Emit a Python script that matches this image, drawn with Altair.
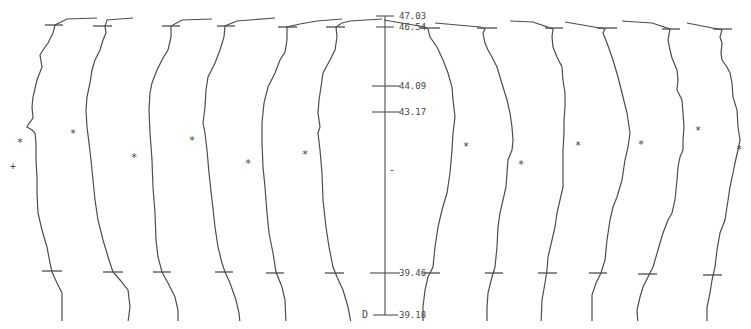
import altair as alt
import pandas as pd

# ---- profile curves (image-like coordinates: x to the right, y downward) ----
curve_x = {
    1: [97, 67, 55, 53, 48, 43, 40, 42, 37, 33, 32, 33, 28, 27, 32, 35, 36, 36, 37, 37, 38, 42, 47, 50, 52, 57, 62, 62, 62],
    2: [133, 107, 105, 106, 103, 100, 95, 92, 90, 87, 86, 87, 89, 91, 93, 95, 98, 103, 109, 113, 120, 128, 130, 128],
    3: [212, 182, 171, 171, 168, 163, 157, 152, 150, 149, 150, 152, 153, 155, 156, 158, 162, 168, 175, 178, 178],
    4: [275, 237, 225, 224, 220, 215, 208, 206, 205, 203, 205, 207, 209, 212, 215, 218, 222, 225, 230, 236, 239, 240],
    5: [342, 317, 300, 287, 287, 285, 280, 275, 268, 264, 262, 262, 263, 265, 267, 269, 273, 276, 282, 285, 286],
    6: [382, 350, 342, 336, 337, 335, 330, 323, 321, 319, 318, 320, 318, 320, 322, 323, 326, 329, 333, 337, 343, 348, 351],
    7: [384, 425, 428, 430, 437, 443, 448, 452, 453, 455, 453, 452, 450, 447, 442, 438, 435, 433, 428, 425, 423, 423],
    8: [435, 480, 485, 483, 485, 488, 492, 497, 500, 503, 507, 510, 512, 513, 512, 508, 507, 506, 503, 500, 498, 497, 495, 492, 488, 487, 487],
    9: [510, 533, 553, 552, 553, 557, 562, 563, 565, 565, 564, 564, 563, 563, 563, 563, 560, 557, 555, 552, 548, 547, 545, 542, 541],
    10: [565, 600, 605, 603, 607, 613, 618, 623, 627, 630, 628, 625, 622, 617, 613, 610, 607, 605, 601, 596, 592, 592],
    11: [622, 652, 670, 668, 670, 672, 677, 678, 677, 682, 683, 684, 683, 683, 680, 678, 677, 675, 672, 668, 663, 658, 653, 648, 643, 640, 637, 638],
    12: [687, 722, 720, 722, 721, 722, 727, 730, 732, 733, 737, 738, 740, 738, 735, 733, 730, 727, 725, 720, 717, 715, 712, 710, 707, 707],
}
curve_y = {
    1: [18, 19, 25, 33, 43, 50, 55, 67, 80, 97, 107, 118, 125, 127, 130, 133, 143, 160, 177, 193, 213, 230, 247, 263, 272, 283, 293, 307, 322],
    2: [18, 20, 26, 33, 40, 50, 60, 70, 83, 97, 110, 127, 143, 160, 180, 200, 220, 240, 260, 272, 280, 290, 307, 322],
    3: [19, 20, 26, 37, 50, 58, 70, 83, 93, 110, 133, 160, 187, 213, 240, 257, 272, 283, 297, 310, 323],
    4: [18, 21, 26, 37, 50, 63, 77, 90, 107, 123, 133, 150, 173, 200, 227, 247, 263, 272, 283, 300, 313, 323],
    5: [19, 21, 24, 27, 40, 52, 60, 73, 87, 103, 123, 143, 167, 187, 213, 233, 253, 272, 287, 300, 323],
    6: [19, 21, 23, 27, 37, 50, 60, 73, 87, 100, 113, 127, 133, 150, 173, 200, 227, 247, 267, 277, 290, 307, 323],
    7: [20, 27, 29, 37, 47, 60, 73, 87, 100, 117, 133, 150, 173, 193, 210, 227, 247, 267, 277, 290, 307, 325],
    8: [23, 27, 29, 33, 43, 50, 57, 67, 77, 87, 100, 113, 127, 140, 150, 160, 173, 187, 200, 213, 227, 247, 267, 277, 293, 307, 325],
    9: [21, 22, 29, 37, 47, 57, 67, 80, 93, 107, 120, 133, 150, 160, 173, 187, 200, 213, 227, 240, 257, 270, 283, 300, 325],
    10: [22, 28, 29, 33, 43, 60, 77, 97, 113, 133, 147, 160, 180, 197, 207, 220, 240, 260, 273, 283, 295, 325],
    11: [21, 23, 29, 40, 50, 58, 70, 80, 90, 100, 113, 127, 140, 150, 157, 167, 180, 200, 213, 220, 233, 250, 267, 277, 287, 297, 310, 325],
    12: [23, 30, 37, 43, 53, 60, 67, 73, 83, 97, 110, 127, 140, 150, 163, 173, 187, 207, 220, 233, 250, 267, 280, 293, 307, 325],
}

# short horizontal marks on each curve (top and bottom)
tick_x1 = [45, 93, 162, 217, 278, 326, 420, 477, 545, 597, 662, 713,
           42, 103, 153, 215, 266, 325, 423, 485, 538, 589, 638, 703]
tick_x2 = [63, 112, 180, 235, 297, 345, 440, 497, 563, 617, 680, 732,
           62, 123, 171, 233, 284, 344, 440, 503, 557, 607, 657, 722]
tick_y = [25, 26, 26, 26, 27, 27, 28, 28, 28, 28, 29, 29,
          271, 272, 272, 272, 273, 273, 273, 273, 273, 273, 274, 275]

# central scale
scale_labels = ["47.03", "46.54", "44.09", "43.17", "39.46", "39.18"]
scale_y = [16, 27, 86, 112, 273, 315]
scale_x1 = [376, 376, 372, 372, 370, 373]
scale_x2 = [394, 394, 400, 400, 400, 398]
label_x = [399, 399, 399, 399, 399, 399]
axis_x = [385]
axis_top = [16]
axis_bottom = [315]

# asterisks
star_x = [20, 73, 134, 192, 248, 305, 466, 521, 578, 641, 698, 739]
star_y = [140, 131, 155, 138, 161, 152, 144, 162, 143, 142, 128, 147]

# other symbols
sym_text = ["+", "-", "D"]
sym_x = [13, 392, 365]
sym_y = [167, 170, 315]

rows = []
for c in curve_x:
    for i, (xv, yv) in enumerate(zip(curve_x[c], curve_y[c])):
        rows.append({"curve": c, "i": i, "x": xv, "y": yv})
curves = pd.DataFrame(rows)
ticks = pd.DataFrame({"x": tick_x1, "x2": tick_x2, "y": tick_y})
scale_df = pd.DataFrame({"x": scale_x1, "x2": scale_x2, "lx": label_x, "y": scale_y, "label": scale_labels})
axis_df = pd.DataFrame({"x": axis_x, "y": axis_top, "y2": axis_bottom})
stars = pd.DataFrame({"x": star_x, "y": star_y, "t": ["*"] * len(star_x)})
syms = pd.DataFrame({"x": sym_x, "y": sym_y, "t": sym_text})

W, H = 735, 313
xs = alt.Scale(domain=[8, 8 + W], nice=False, zero=False)
ys = alt.Scale(domain=[8, 8 + H], nice=False, zero=False, reverse=True)
INK = "#4d4d4d"
TXT = "#484848"
FONT = "DejaVu Sans Mono"

lines = alt.Chart(curves).mark_line(color=INK, strokeWidth=1.2, clip=True).encode(
    x=alt.X("x:Q", scale=xs, axis=None),
    y=alt.Y("y:Q", scale=ys, axis=None),
    detail="curve:N",
    order="i:Q",
)
tick_rules = alt.Chart(ticks).mark_rule(color=INK, strokeWidth=1.3, clip=True).encode(
    x=alt.X("x:Q", scale=xs, axis=None), x2="x2:Q",
    y=alt.Y("y:Q", scale=ys, axis=None),
)
scale_rules = alt.Chart(scale_df).mark_rule(color=INK, strokeWidth=1.1, clip=True).encode(
    x=alt.X("x:Q", scale=xs, axis=None), x2="x2:Q",
    y=alt.Y("y:Q", scale=ys, axis=None),
)
axis_rule = alt.Chart(axis_df).mark_rule(color=INK, strokeWidth=1.1, clip=True).encode(
    x=alt.X("x:Q", scale=xs, axis=None),
    y=alt.Y("y:Q", scale=ys, axis=None), y2="y2:Q",
)
scale_text = alt.Chart(scale_df).mark_text(
    align="left", baseline="middle", font=FONT, fontSize=9, color=TXT
).encode(
    x=alt.X("lx:Q", scale=xs, axis=None),
    y=alt.Y("y:Q", scale=ys, axis=None),
    text="label:N",
)
star_text = alt.Chart(stars).mark_text(
    align="center", baseline="middle", dy=3, font=FONT, fontSize=11, color=TXT
).encode(
    x=alt.X("x:Q", scale=xs, axis=None),
    y=alt.Y("y:Q", scale=ys, axis=None),
    text="t:N",
)
sym_chart = alt.Chart(syms).mark_text(
    align="center", baseline="middle", font=FONT, fontSize=10, color=TXT
).encode(
    x=alt.X("x:Q", scale=xs, axis=None),
    y=alt.Y("y:Q", scale=ys, axis=None),
    text="t:N",
)

chart = alt.layer(lines, tick_rules, scale_rules, axis_rule, scale_text, star_text, sym_chart).properties(
    width=W, height=H, padding=0, background="white"
).configure_view(stroke=None)

chart.save("out.html", embed_options={"renderer": "svg", "actions": False})
